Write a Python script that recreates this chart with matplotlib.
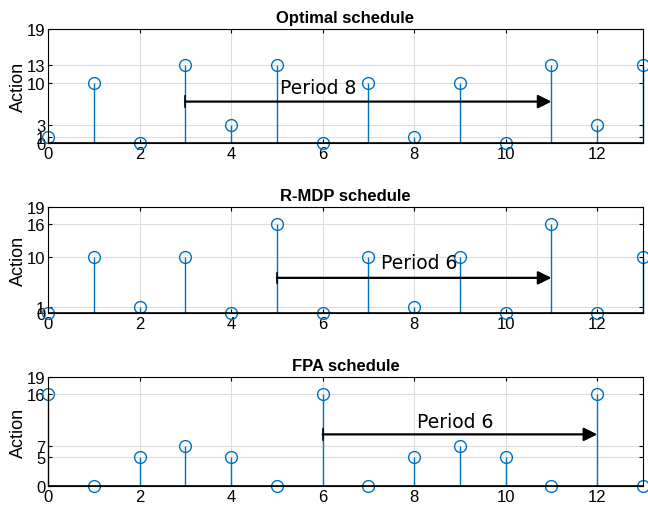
import matplotlib
matplotlib.use("Agg")
import matplotlib.pyplot as plt
import numpy as np

plt.rcParams["font.family"] = ["Liberation Sans", "DejaVu Sans"]

steps = np.arange(14)

optimal_actions = [1, 10, 0, 13, 3, 13, 0, 10, 1, 10, 0, 13, 3, 13]
rmdp_actions = [0, 10, 1, 10, 0, 16, 0, 10, 1, 10, 0, 16, 0, 10]
fpa_actions = [16, 0, 5, 7, 5, 0, 16, 0, 5, 7, 5, 0, 16, 0]

optimal_yticks = [0, 1, 3, 10, 13, 19]
rmdp_yticks = [0, 1, 10, 16, 19]
fpa_yticks = [0, 5, 7, 16, 19]

titles = ["Optimal schedule", "R-MDP schedule", "FPA schedule"]
periods = [8, 6, 6]
# (start, end, arrow height, label x, label y)
arrow_specs = [(3, 11, 6.9, 5.9, 9.2), (5, 11, 6.3, 8.1, 9.0), (6, 12, 9.0, 8.9, 11.3)]

STEM_COLOR = "#0072BD"

fig = plt.figure(figsize=(6.48, 5.1), dpi=100)
axes_boxes = [
    (48 / 648, 1 - 144 / 510, 595 / 648, 114 / 510),
    (48 / 648, 1 - 314 / 510, 595 / 648, 106 / 510),
    (48 / 648, 1 - 487 / 510, 595 / 648, 109 / 510),
]

for box, title, actions, yticks, period, spec in zip(
    axes_boxes, titles,
    [optimal_actions, rmdp_actions, fpa_actions],
    [optimal_yticks, rmdp_yticks, fpa_yticks],
    periods, arrow_specs,
):
    ax = fig.add_axes(box)
    markerline, stemlines, baseline = ax.stem(steps, actions, basefmt="k-")
    plt.setp(stemlines, color=STEM_COLOR, linewidth=1.0)
    plt.setp(markerline, marker="o", markersize=8.5, markerfacecolor="none",
             markeredgecolor=STEM_COLOR, markeredgewidth=1.0)
    plt.setp(baseline, color="black", linewidth=1.2)
    for sl in [markerline, stemlines]:
        sl.set_clip_on(False)

    ax.set_xlim(0, 13)
    ax.set_ylim(0, 19)
    ax.set_xticks(np.arange(0, 13, 2))
    ax.set_yticks(yticks)
    ax.grid(True, color="#dcdcdc", linewidth=0.8)
    ax.set_axisbelow(True)
    ax.tick_params(direction="in", length=3, labelsize=12, right=True, top=True,
                   pad=2)
    for side in ax.spines.values():
        side.set_linewidth(0.8)
    ax.set_ylabel("Action", fontsize=13, labelpad=0)
    ax.set_title(title, fontsize=12, fontweight="bold", pad=5)

    start, end, y_arrow, tx, ty = spec
    ax.annotate("", xy=(end, y_arrow), xytext=(start, y_arrow),
                arrowprops=dict(arrowstyle="-|>", color="black", lw=1.6,
                                mutation_scale=20, shrinkA=0, shrinkB=0))
    ax.plot([start, start], [y_arrow - 0.9, y_arrow + 0.9], color="black", lw=1.2)
    ax.text(tx, ty, f"Period {period}", fontsize=13.5, ha="center", va="center",
            family="DejaVu Sans")

fig.savefig("out.png", dpi=100)
